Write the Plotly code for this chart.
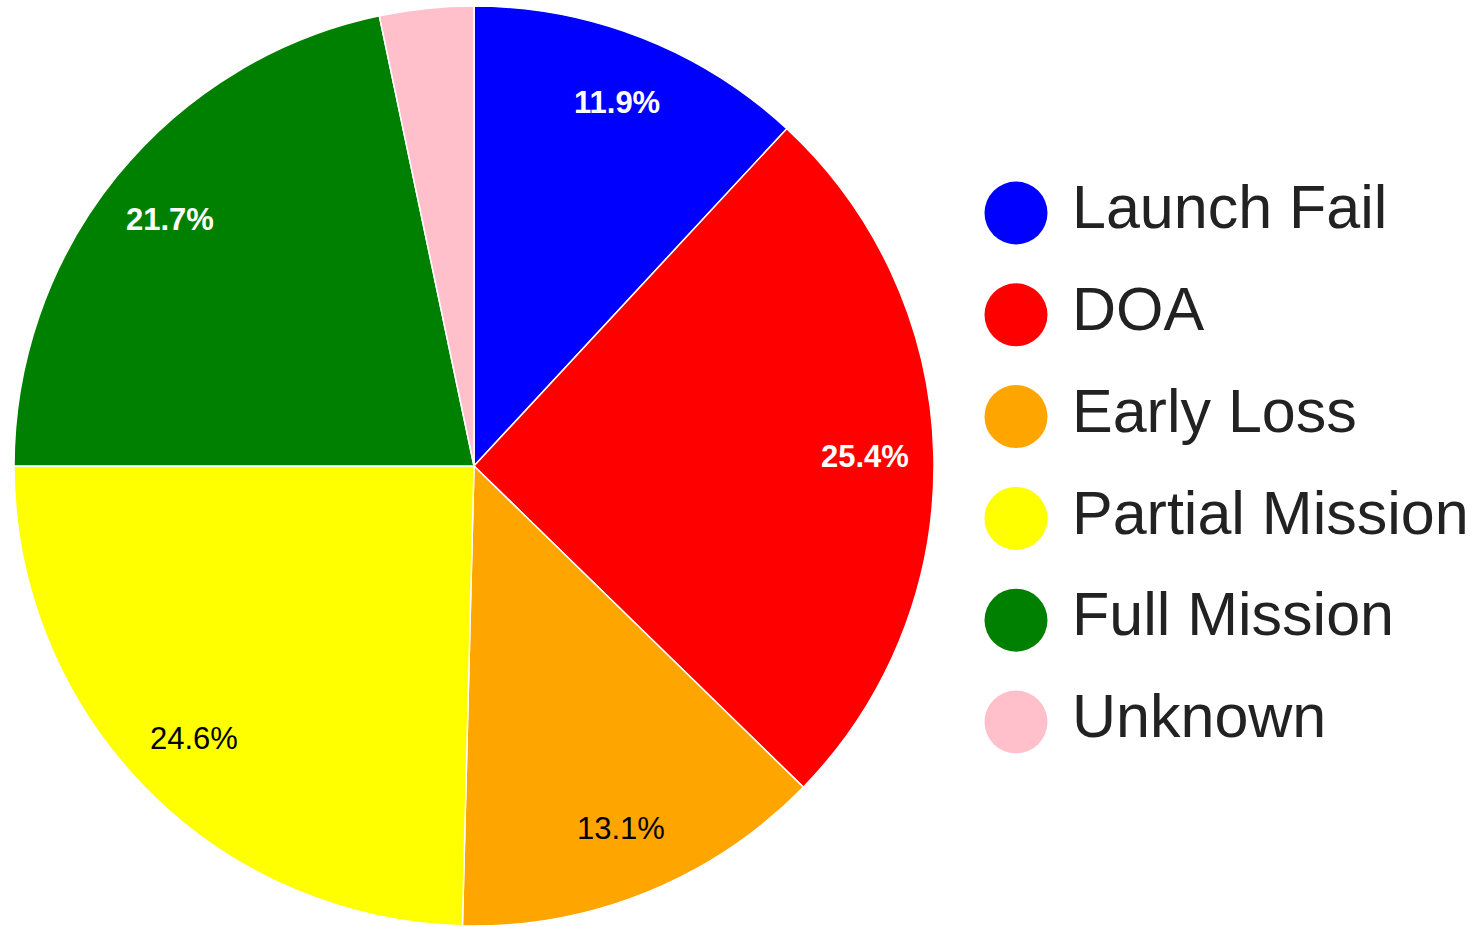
import math
import plotly.graph_objects as go

categories = ["Launch Fail", "DOA", "Early Loss", "Partial Mission", "Full Mission", "Unknown"]
values = [11.9, 25.4, 13.1, 24.6, 21.7, 3.3]
colors = ["#0000ff", "#ff0000", "#ffa500", "#ffff00", "#008000", "#ffc0cb"]
label_colors = ["white", "white", "black", "black", "white", "black"]
label_bold = [True, True, False, False, True, False]
show_label = [True, True, True, True, True, False]

W, H = 1481, 927
FONT = "Liberation Sans, Arial, Helvetica, sans-serif"

# pie geometry (pixels)
px0, px1 = 14, 934
py_top, py_bot = 6, 926
dom_x = [px0 / W, px1 / W]
dom_y = [(H - py_bot) / H, (H - py_top) / H]
R = (px1 - px0) / 2
cx = (dom_x[0] + dom_x[1]) / 2
cy = (dom_y[0] + dom_y[1]) / 2

fig = go.Figure()
fig.add_trace(go.Pie(
    labels=categories, values=values, sort=False, direction="clockwise", rotation=0,
    marker=dict(colors=colors, line=dict(color="white", width=1.5)),
    textinfo="none",
    domain=dict(x=dom_x, y=dom_y),
    showlegend=False, hoverinfo="label+percent",
))

# percentage labels placed at the slice mid-angles, derived from the values
total = sum(values)
cum = 0.0
annotations = []
for v, c, b, s in zip(values, label_colors, label_bold, show_label):
    mid = (cum + v / 2) / total * 2 * math.pi
    cum += v
    if not s:
        continue
    r = 0.85 * R
    txt = f"{v / total * 100:.1f}%"
    if b:
        txt = f"<b>{txt}</b>"
    annotations.append(dict(
        x=cx + r * math.sin(mid) / W, y=cy + r * math.cos(mid) / H,
        xref="paper", yref="paper", text=txt, showarrow=False,
        font=dict(size=31, color=c, family=FONT), xanchor="center", yanchor="middle",
    ))

# legend built from categories/colors
idx = list(range(len(categories)))
fig.add_trace(go.Scatter(
    x=[0] * len(categories), y=idx, mode="markers",
    marker=dict(size=63, color=colors, line=dict(width=0)),
    xaxis="x", yaxis="y", showlegend=False, hoverinfo="skip",
))
fig.add_trace(go.Scatter(
    x=[1] * len(categories), y=idx, mode="text", text=categories,
    textposition="middle right",
    textfont=dict(size=61, color="#222222", family=FONT),
    xaxis="x", yaxis="y", showlegend=False, hoverinfo="skip",
))

d0 = 0.65
unit_x = 1072 - 1016
r0 = -(1016 - d0 * W) / unit_x
r1 = r0 + (1 - d0) * W / unit_x
unit_y = 101.8
top = -213 / unit_y
bot = top + H / unit_y

fig.update_layout(
    width=W, height=H, margin=dict(l=0, r=0, t=0, b=0),
    paper_bgcolor="white", plot_bgcolor="rgba(0,0,0,0)",
    xaxis=dict(domain=[d0, 1], range=[r0, r1], visible=False, fixedrange=True),
    yaxis=dict(domain=[0, 1], range=[bot, top], visible=False, fixedrange=True),
    font=dict(family=FONT),
    annotations=annotations,
)

fig.write_html("out.html", config={"displayModeBar": False},
               post_script="document.body.style.margin='0';document.body.style.overflow='hidden';")
